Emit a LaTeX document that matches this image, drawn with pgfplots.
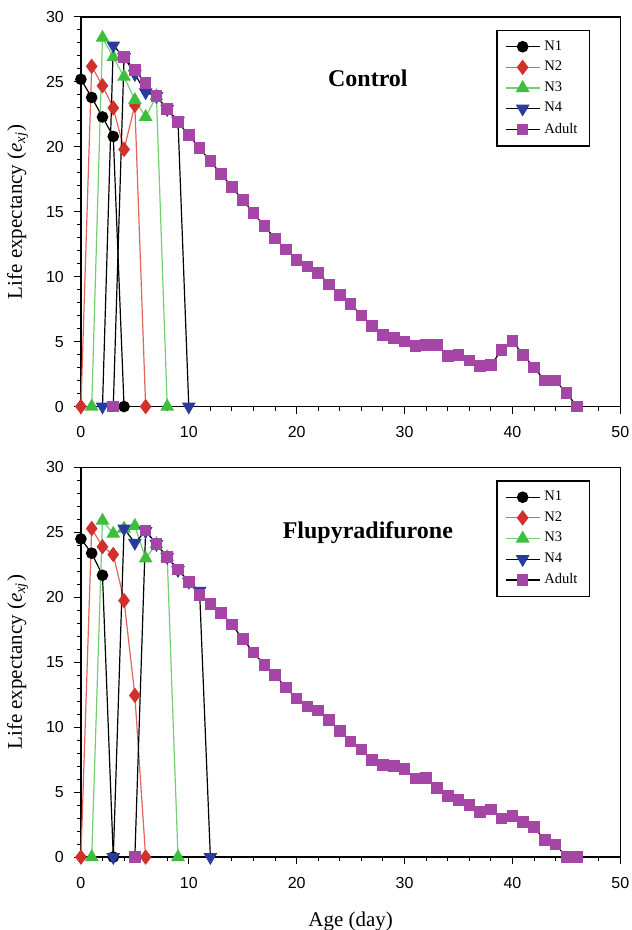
\documentclass[border=0pt]{standalone}
\usepackage{fontspec}
\setmainfont{Liberation Serif}
\newfontfamily\arialfont{Liberation Sans}
\usepackage{pgfplots}
\pgfplotsset{compat=1.18}

\definecolor{cN2}{HTML}{D2302A}
\definecolor{cN2line}{HTML}{E0645C}
\definecolor{cN3}{HTML}{3DBE3D}
\definecolor{cN3line}{HTML}{72CF72}
\definecolor{cN4}{HTML}{2B3A9E}
\definecolor{cAd}{HTML}{A545A5}

\pgfplotsset{
  lifeax/.style={
    scale only axis, width=270pt, height=195pt,
    xmin=0, xmax=50, ymin=0, ymax=30,
    xtick={0,10,...,50}, ytick={0,5,...,30},
    minor x tick num=4, minor y tick num=4,
    tick align=outside, xtick pos=bottom, ytick pos=left,
    major tick length=3.5pt, minor tick length=2pt,
    axis line style={line width=0.6pt},
    every tick/.style={black, line width=0.5pt},
    clip=false,
    ticklabel style={font=\arialfont\fontsize{8}{9.5}\selectfont},
    xticklabel style={yshift=-3pt},
    yticklabel style={xshift=-1.5pt},
    /pgf/number format/assume math mode=true,
    ylabel={Life expectancy (\textit{e}\textsubscript{\textit{xj}})},
    ylabel style={font=\fontsize{10.5}{12}\selectfont, yshift=2pt},
    legend cell align=left,
    legend style={at={(0.944,0.967)}, anchor=north east, draw=black,
      line width=0.6pt, font=\fontsize{7.3}{9}\selectfont,
      inner xsep=4pt, inner ysep=3pt, row sep=0pt},
  },
  n1/.style={black, line width=0.6pt, mark=*, mark size=2.6pt,
    mark options={fill=black, draw=black}},
  n2/.style={cN2line, line width=0.6pt, mark=diamond*, mark size=3.4pt,
    mark options={fill=cN2, draw=cN2}},
  n3/.style={cN3line, line width=0.6pt, mark=triangle*, mark size=3.4pt,
    mark options={fill=cN3, draw=cN3}},
  n4/.style={black, line width=0.6pt, mark=triangle*, mark size=3.4pt,
    mark options={fill=cN4, draw=cN4, rotate=180}},
  ad/.style={black, line width=0.6pt, mark=square*, mark size=2.6pt,
    mark options={fill=cAd, draw=cAd}},
}

\begin{document}
\begin{tikzpicture}
% Control
\begin{axis}[lifeax, at={(0,225.5pt)}, anchor=south west]
\addplot[n1] coordinates {(0,25.2)(1,23.8)(2,22.3)(3,20.8)(4,0)};
\addlegendentry{N1}
\addplot[n2] coordinates {(0,0)(1,26.2)(2,24.7)(3,23.0)(4,19.8)(5,23.2)(6,0)};
\addlegendentry{N2}
\addplot[n3] coordinates {(1,0)(2,28.4)(3,26.9)(4,25.4)(5,23.6)(6,22.3)(7,23.9)(8,0)};
\addlegendentry{N3}
\addplot[n4] coordinates {(2,0)(3,27.8)(4,26.9)(5,25.6)(6,24.2)(7,23.9)(8,22.9)(9,22.0)(10,0)};
\addlegendentry{N4}
\addplot[ad] coordinates {
(3,0)(4,26.9)(5,25.9)(6,24.9)(7,23.9)(8,22.9)(9,21.9)(10,20.9)(11,19.9)(12,18.9)
(13,17.9)(14,16.9)(15,15.9)(16,14.9)(17,13.9)(18,12.95)(19,12.1)(20,11.3)(21,10.8)
(22,10.3)(23,9.4)(24,8.6)(25,7.9)(26,7.0)(27,6.2)(28,5.5)(29,5.26)(30,5.0)(31,4.67)
(32,4.74)(33,4.72)(34,3.9)(35,3.97)(36,3.54)(37,3.13)(38,3.18)(39,4.36)(40,5.05)
(41,3.97)(42,3.0)(43,2.0)(44,2.0)(45,1.03)(46,0)};
\addlegendentry{Adult}
\node[font=\bfseries\fontsize{12}{14}\selectfont] at (axis cs:26.6,25.3) {Control};
\end{axis}
% Flupyradifurone
\begin{axis}[lifeax, at={(0,0)}, anchor=south west, xlabel={Age (day)},
  xlabel style={font=\fontsize{10.5}{12}\selectfont, yshift=-5pt}]
\addplot[n1] coordinates {(0,24.5)(1,23.4)(2,21.7)(3,0)};
\addlegendentry{N1}
\addplot[n2] coordinates {(0,0)(1,25.3)(2,23.9)(3,23.3)(4,19.75)(5,12.45)(6,0)};
\addlegendentry{N2}
\addplot[n3] coordinates {(1,0)(2,25.9)(3,24.9)(4,25.3)(5,25.5)(6,23.0)(7,24.1)(8,23.1)(9,0)};
\addlegendentry{N3}
\addplot[n4] coordinates {(3,0)(4,25.3)(5,24.2)(6,25.1)(7,24.1)(8,23.1)(9,22.1)(10,21.2)(11,20.5)(12,0)};
\addlegendentry{N4}
\addplot[ad] coordinates {
(5,0)(6,25.15)(7,24.1)(8,23.1)(9,22.15)(10,21.2)(11,20.2)(12,19.5)(13,18.8)(14,17.9)
(15,16.8)(16,15.75)(17,14.8)(18,14.0)(19,13.05)(20,12.2)(21,11.6)(22,11.3)(23,10.55)
(24,9.7)(25,8.9)(26,8.3)(27,7.46)(28,7.1)(29,7.0)(30,6.8)(31,6.05)(32,6.1)(33,5.33)
(34,4.7)(35,4.38)(36,4.0)(37,3.47)(38,3.66)(39,2.96)(40,3.17)(41,2.7)(42,2.3)(43,1.3)
(44,0.98)(45,0)(46,0)};
\addlegendentry{Adult}
\node[font=\bfseries\fontsize{12}{14}\selectfont] at (axis cs:26.6,25.0) {Flupyradifurone};
\end{axis}
\pgfresetboundingbox
\path[use as bounding box] (-40.5pt,-36.5pt) rectangle (275.5pt,429pt);
\end{tikzpicture}
\end{document}
